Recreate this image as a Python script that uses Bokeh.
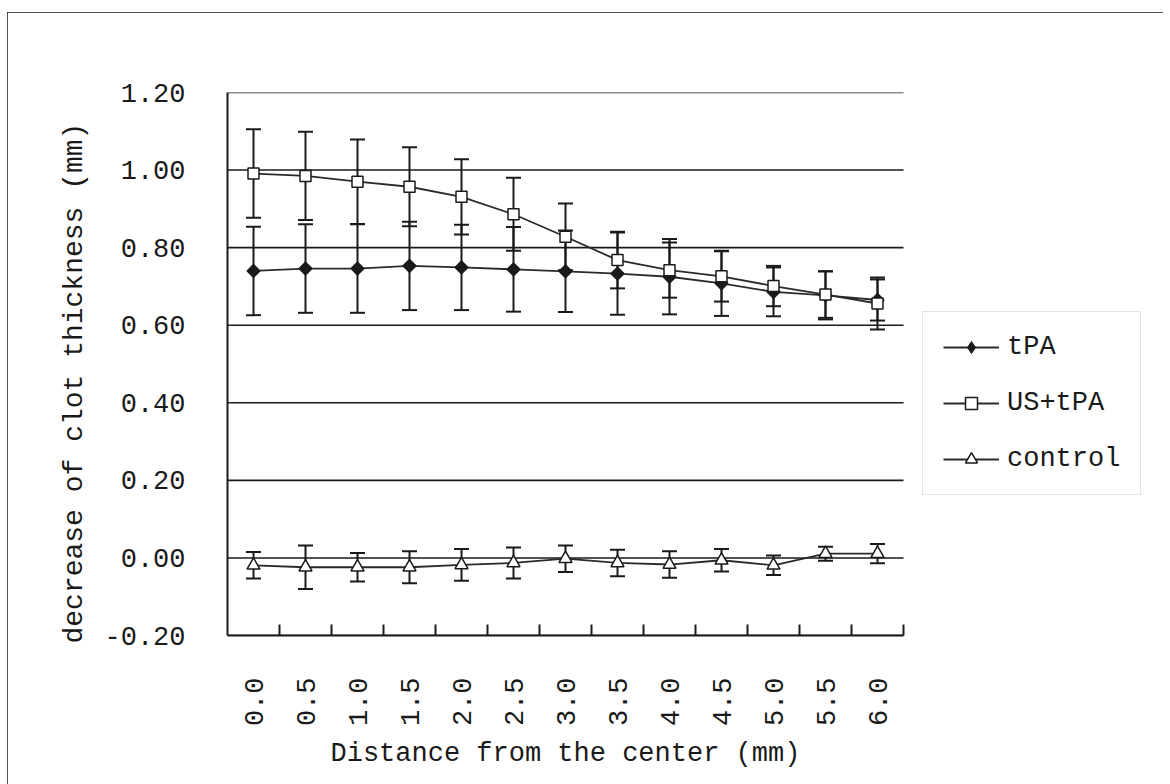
from math import pi

from bokeh.embed import file_html
from bokeh.resources import INLINE
from bokeh.plotting import figure
from bokeh.models import (ColumnDataSource, Whisker, TeeHead, Legend, LegendItem,
                          FixedTicker, NumeralTickFormatter, Range1d, Title)

# Distance from the clot center (mm)
distances = ["0.0", "0.5", "1.0", "1.5", "2.0", "2.5", "3.0",
             "3.5", "4.0", "4.5", "5.0", "5.5", "6.0"]

# Mean decrease of clot thickness (mm) and its standard deviation
tpa = [0.740, 0.746, 0.746, 0.753, 0.749, 0.744, 0.739,
       0.733, 0.725, 0.708, 0.686, 0.677, 0.665]
tpa_sd = [0.114, 0.114, 0.114, 0.114, 0.110, 0.109, 0.105,
          0.106, 0.097, 0.084, 0.063, 0.062, 0.053]

us_tpa = [0.991, 0.985, 0.970, 0.957, 0.931, 0.886, 0.828,
          0.768, 0.742, 0.726, 0.701, 0.679, 0.656]
us_tpa_sd = [0.114, 0.114, 0.109, 0.102, 0.097, 0.094, 0.086,
             0.073, 0.071, 0.065, 0.052, 0.060, 0.067]

control = [-0.019, -0.024, -0.024, -0.024, -0.018, -0.013, -0.002,
           -0.013, -0.017, -0.006, -0.019, 0.011, 0.011]
control_sd = [0.034, 0.056, 0.037, 0.041, 0.041, 0.040, 0.034,
              0.034, 0.034, 0.029, 0.025, 0.018, 0.025]

y_ticks = [-0.2, 0.0, 0.2, 0.4, 0.6, 0.8, 1.0, 1.2]

FONT = "Liberation Mono"
FONT_SIZE = "27px"
INK = "#1a1a1a"

xs = list(range(len(distances)))
x_lo, x_hi = -0.5, len(distances) - 0.5

# Layout: the frame spans the plot area plus the legend column on the right;
# the category axis occupies only its left part (676 px of 926 px).
FRAME_W = 926
PLOT_W = 676
x_end = x_lo + (x_hi - x_lo) * FRAME_W / PLOT_W

p = figure(width=1156, height=772, output_backend="svg", toolbar_location=None,
           x_range=Range1d(x_lo, x_end), y_range=Range1d(-0.2, 1.2),
           min_border_left=220, min_border_right=10, min_border_top=80,
           min_border_bottom=149)
p.margin = (12, 0, 0, 7)
p.styles = {"outline": "2px solid #1a1a1a", "outline-offset": "-2px"}
p.outline_line_color = None
p.background_fill_color = "white"
p.border_fill_color = "white"

# x axis: labels at category centers, short inward ticks between categories
xax = p.xaxis[0]
xax.bounds = (x_lo, x_hi)
xax.ticker = FixedTicker(ticks=xs, minor_ticks=[i + 0.5 for i in xs])
xax.major_label_overrides = {i: d for i, d in zip(xs, distances)}
xax.major_label_orientation = pi / 2
xax.major_tick_line_color = None
xax.minor_tick_in = 11
xax.minor_tick_out = 0
xax.minor_tick_line_width = 2
xax.minor_tick_line_color = INK
xax.axis_line_width = 2
xax.axis_line_color = INK
xax.major_label_standoff = 36

# y axis
yax = p.yaxis[0]
yax.ticker = FixedTicker(ticks=y_ticks, minor_ticks=[])
yax.formatter = NumeralTickFormatter(format="0.00")
yax.major_tick_in = 0
yax.major_tick_out = 0
yax.minor_tick_line_color = None
yax.axis_line_width = 2
yax.axis_line_color = INK
yax.major_label_standoff = 42

for ax in (xax, yax):
    ax.major_label_text_font = FONT
    ax.major_label_text_font_size = FONT_SIZE
    ax.major_label_text_color = INK

# axis titles
p.add_layout(Title(text="decrease of clot thickness (mm)", align="left", offset=-8,
                   text_font=FONT, text_font_size="28px", text_font_style="normal",
                   text_color=INK, standoff=24), "left")
p.add_layout(Title(text="Distance from the center (mm)", align="left", offset=103,
                   text_font=FONT, text_font_size=FONT_SIZE, text_font_style="normal",
                   text_color=INK, standoff=14), "below")

# horizontal grid lines limited to the category span
p.xgrid.visible = False
p.ygrid.visible = False
grid_src = ColumnDataSource(dict(x0=[x_lo] * len(y_ticks), x1=[x_hi] * len(y_ticks),
                                 y=y_ticks))
p.segment(x0="x0", y0="y", x1="x1", y1="y", source=grid_src,
          line_color=INK, line_width=1.6, level="underlay")

series = [
    ("tPA", tpa, tpa_sd, dict(marker="square", angle=pi / 4, size=9,
                              fill_color=INK, line_color=INK, line_width=1.5), "diamond"),
    ("US+tPA", us_tpa, us_tpa_sd, dict(marker="square", size=11,
                                       fill_color="white", line_color=INK, line_width=1.5), None),
    ("control", control, control_sd, dict(marker="triangle", size=13,
                                          fill_color="white", line_color=INK, line_width=1.5), None),
]

items = []
for name, mean, sd, mstyle, legend_marker in series:
    src = ColumnDataSource(dict(
        x=xs, y=mean,
        upper=[m + s for m, s in zip(mean, sd)],
        lower=[m - s for m, s in zip(mean, sd)],
    ))
    whisk = Whisker(source=src, base="x", upper="upper", lower="lower",
                    dimension="height", line_color=INK, line_width=2,
                    upper_head=TeeHead(size=15, line_color=INK, line_width=2),
                    lower_head=TeeHead(size=15, line_color=INK, line_width=2),
                    level="underlay")
    p.add_layout(whisk)
    ln = p.line("x", "y", source=src, line_color="#2a2a2a", line_width=1.8)
    if legend_marker is not None:
        # legend key symbol; drawn under the rotated-square markers
        key = p.scatter("x", "y", source=src, marker=legend_marker, size=8,
                        fill_color=INK, line_color=INK, line_width=1.0)
        mk = p.scatter("x", "y", source=src, **mstyle)
        items.append(LegendItem(label=name, renderers=[ln, key]))
    else:
        mk = p.scatter("x", "y", source=src, **mstyle)
        items.append(LegendItem(label=name, renderers=[ln, mk]))

legend = Legend(items=items, location=(695, 140), orientation="vertical",
                glyph_width=56, glyph_height=30, label_height=30,
                label_standoff=8, padding=20, spacing=26, margin=0,
                label_text_font=FONT, label_text_font_size=FONT_SIZE,
                label_text_color=INK,
                border_line_color="#c8c8c8", border_line_width=1.5,
                background_fill_color="white", background_fill_alpha=1.0)
p.add_layout(legend)

open("out.html", "w").write(file_html(p, INLINE))
